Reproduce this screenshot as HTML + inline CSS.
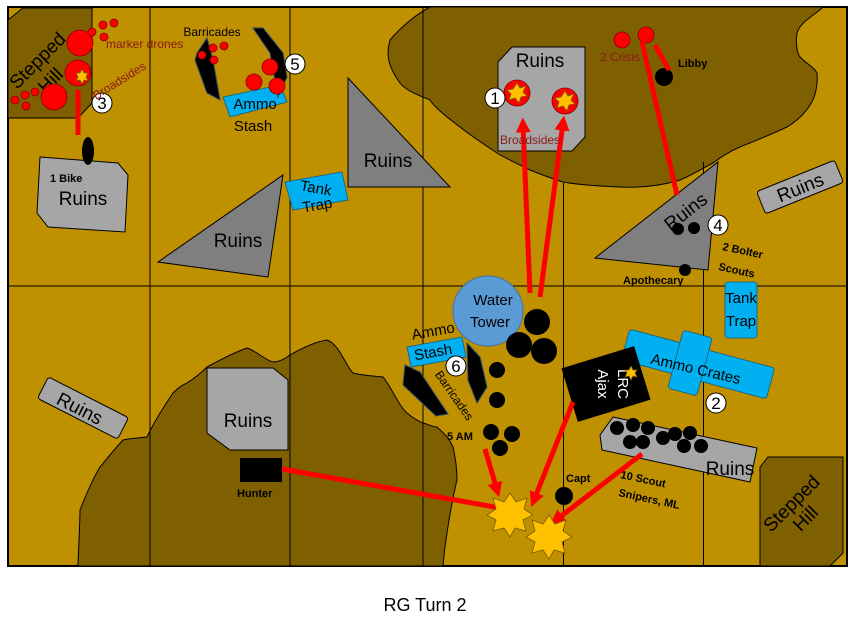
<!DOCTYPE html>
<html><head><meta charset="utf-8"><style>
html,body{margin:0;padding:0;background:#fff;}
svg{display:block;font-family:"Liberation Sans",Calibri,sans-serif;}
</style></head><body>
<svg width="851" height="617" viewBox="0 0 851 617" xmlns="http://www.w3.org/2000/svg">
<defs>
<marker id="ah" markerWidth="3" markerHeight="3" refX="1.5" refY="1.5" orient="auto" markerUnits="strokeWidth"><path d="M0,0 L3,1.5 L0,3 z" fill="#f00"/></marker>
</defs>
<rect x="8" y="7" width="839" height="559" fill="#BF9000" stroke="#000" stroke-width="2"/>
<path d="M430,7 L823,7 C815,15 800,22 797,33 C795,45 798,55 800,57 C808,65 815,68 817,73 C818,85 815,95 813,100 C805,115 795,122 787,127 C770,135 752,142 740,147 C728,152 720,158 713,163 C700,170 690,176 680,180 C660,186 640,188 620,187 C600,186 580,185 563,182 C550,178 540,174 530,170 C518,164 505,158 497,153 C485,145 470,135 460,127 C448,118 435,108 430,100 C418,95 405,90 400,83 C392,72 388,62 388,53 C388,45 390,42 390,40 C400,28 415,15 430,7 Z" fill="#7F6000" stroke="#000" stroke-width="1"/>
<path d="M78,566 L78,563 C79,540 80,520 80,510 C88,490 95,475 100,467 C110,455 118,445 123,440 C130,438 140,438 147,437 C155,420 165,405 173,393 C178,388 182,385 187,383 C195,378 202,372 207,367 C220,360 235,352 247,348 C258,352 265,360 273,362 C280,362 286,358 290,355 C302,348 315,342 327,340 C340,345 345,365 353,373 C365,376 375,376 383,377 C392,388 398,405 407,413 C413,418 418,421 423,423 C430,425 433,427 437,427 C446,435 450,440 453,447 C456,460 457,470 457,480 C452,500 449,520 447,533 C445,545 444,555 443,566 Z" fill="#7F6000" stroke="#000" stroke-width="1"/>
<g stroke="#000" stroke-width="1">
<line x1="150" y1="7" x2="150" y2="566"/>
<line x1="290" y1="7" x2="290" y2="566"/>
<line x1="423" y1="7" x2="423" y2="566"/>
<line x1="563.5" y1="183" x2="563.5" y2="566"/>
<line x1="703.5" y1="162" x2="703.5" y2="566"/>
<line x1="8" y1="286" x2="847" y2="286"/>
</g>
<path d="M23,8 L92,8 L92,103 L78,118 L8,118 L8,20 Z" fill="#7F6000" stroke="#000"/>
<text x="42" y="65" font-size="19" transform="rotate(-45 42 65)" text-anchor="middle" fill="#000">Stepped</text>
<text x="55" y="85" font-size="19" transform="rotate(-45 55 85)" text-anchor="middle" fill="#000">Hill</text>
<path d="M768,457 L843,457 L843,553 L830,566 L760,566 L760,467 Z" fill="#7F6000" stroke="#000"/>
<text x="796" y="508" font-size="19" transform="rotate(-45 796 508)" text-anchor="middle">Stepped</text>
<text x="810" y="523" font-size="19" transform="rotate(-45 810 523)" text-anchor="middle">Hill</text>
<g fill="#A6A6A6" stroke="#000" stroke-width="1">
<path d="M40,157 L118,163 L128,175 L125,232 L48,227 L37,213 Z"/>
<path d="M158,262 L283,175 L268,277 Z" fill="#7F7F7F"/>
<path d="M348,78 L450,187 L348,187 Z" fill="#7F7F7F"/>
<path d="M512,47 L585,47 L585,137 L572,151 L498,151 L498,62 Z"/>
<path d="M595,258 L718,162 L708,270 Z" fill="#7F7F7F"/>
<rect x="-42" y="-12" width="84" height="24" rx="3" transform="translate(800,187) rotate(-22)"/>
<rect x="-45" y="-12" width="90" height="24" rx="3" transform="translate(83,408) rotate(27)"/>
<path d="M207,368 L273,368 L288,380 L288,450 L230,450 L207,433 Z"/>
<path d="M613,417 L757,448 L750,482 L602,450 L600,435 Z"/>
</g>
<g font-size="19" fill="#000">
<text x="83" y="205" text-anchor="middle">Ruins</text>
<text x="238" y="247" text-anchor="middle">Ruins</text>
<text x="388" y="167" text-anchor="middle">Ruins</text>
<text x="540" y="67" text-anchor="middle">Ruins</text>
<text x="686" y="218" text-anchor="middle" transform="rotate(-38 686 212)">Ruins</text>
<text x="800" y="194" text-anchor="middle" transform="rotate(-22 800 187)">Ruins</text>
<text x="80" y="415" text-anchor="middle" transform="rotate(27 80 408)">Ruins</text>
<text x="248" y="427" text-anchor="middle">Ruins</text>
<text x="730" y="475" text-anchor="middle">Ruins</text>
</g>
<g fill="#00B0F0" stroke="#1a5a7a" stroke-width="0.8">
<path d="M223,97 L280,85 L287,102 L230,117 Z"/>
<path d="M285,182 L342,172 L348,200 L293,210 Z"/>
<rect x="725" y="282" width="32" height="56" rx="3"/>
<rect x="-75" y="-16" width="150" height="32" rx="3" transform="translate(698,364) rotate(15)"/>
<rect x="-15" y="-30" width="30" height="60" rx="3" transform="translate(690,363) rotate(15)"/>
<path d="M407,347 L462,337 L466,357 L411,367 Z"/>
</g>
<g fill="#000" stroke="#2c4a6a" stroke-width="1">
<path d="M197,53 L207,38 L213,60 L220,100 L207,93 L195,60 Z"/>
<path d="M253,28 L263,28 L283,53 L287,77 L278,97 L270,53 Z"/>
<path d="M405,365 L420,372 L448,414 L436,416 L403,385 Z"/>
<path d="M467,343 L480,357 L487,387 L477,403 L468,380 Z"/>
</g>
<circle cx="488" cy="311" r="35" fill="#5B9BD5" stroke="#41719c"/>
<text x="493" y="305" font-size="15" text-anchor="middle">Water</text>
<text x="490" y="327" font-size="15" text-anchor="middle">Tower</text>
<text x="255" y="109" font-size="15" text-anchor="middle">Ammo</text>
<text x="253" y="131" font-size="15" text-anchor="middle">Stash</text>
<text x="315" y="193" font-size="15" text-anchor="middle" transform="rotate(10 315 193)">Tank</text>
<text x="318" y="210" font-size="15" text-anchor="middle" transform="rotate(-10 318 210)">Trap</text>
<text x="741" y="303" font-size="15" text-anchor="middle">Tank</text>
<text x="741" y="326" font-size="15" text-anchor="middle">Trap</text>
<text x="696" y="374" font-size="15" text-anchor="middle" transform="rotate(13 696 368)">Ammo Crates</text>
<text x="434" y="336" font-size="15" text-anchor="middle" transform="rotate(-10 434 336)">Ammo</text>
<text x="434" y="357" font-size="15" text-anchor="middle" transform="rotate(-10 434 357)">Stash</text>
<text x="455" y="400" font-size="12" text-anchor="middle" transform="rotate(55 455 395)">Barricades</text>
<text x="212" y="36" font-size="12" text-anchor="middle">Barricades</text>
<rect x="-38" y="-28" width="76" height="56" fill="#000" transform="translate(606,384) rotate(-17)"/>
<text x="618" y="384" font-size="15" fill="#fff" text-anchor="middle" transform="rotate(90 618 384)">LRC</text>
<text x="598" y="384" font-size="15" fill="#fff" text-anchor="middle" transform="rotate(90 598 384)">Ajax</text>
<g fill="#000">
<circle cx="537" cy="322" r="13"/><circle cx="519" cy="345" r="13"/><circle cx="544" cy="351" r="13"/>
<circle cx="497" cy="370" r="8"/><circle cx="497" cy="400" r="8"/><circle cx="491" cy="432" r="8"/><circle cx="512" cy="434" r="8"/><circle cx="500" cy="448" r="8"/>
<circle cx="617" cy="428" r="7"/><circle cx="633" cy="425" r="7"/><circle cx="648" cy="428" r="7"/><circle cx="630" cy="442" r="7"/><circle cx="643" cy="442" r="7"/><circle cx="663" cy="438" r="7"/><circle cx="675" cy="434" r="7"/><circle cx="690" cy="433" r="7"/><circle cx="684" cy="446" r="7"/><circle cx="701" cy="446" r="7"/>
<circle cx="564" cy="496" r="9"/>
<circle cx="685" cy="270" r="6"/><circle cx="678" cy="229" r="6"/><circle cx="694" cy="228" r="6"/>
<circle cx="664" cy="77" r="9"/>
<ellipse cx="88" cy="151" rx="6" ry="14"/>
<rect x="240" y="458" width="42" height="24"/>
</g>
<g fill="#f00" stroke="#800" stroke-width="0.8">
<circle cx="80" cy="43" r="13"/><circle cx="78" cy="73" r="13"/><circle cx="54" cy="97" r="13"/>
<circle cx="15" cy="100" r="4"/><circle cx="25" cy="95" r="4"/><circle cx="26" cy="106" r="4"/><circle cx="35" cy="92" r="4"/>
<circle cx="92" cy="32" r="4"/><circle cx="103" cy="25" r="4"/><circle cx="114" cy="23" r="4"/><circle cx="104" cy="37" r="4"/>
<circle cx="202" cy="55" r="4"/><circle cx="213" cy="48" r="4"/><circle cx="224" cy="46" r="4"/><circle cx="214" cy="60" r="4"/>
<circle cx="270" cy="67" r="8"/><circle cx="254" cy="82" r="8"/><circle cx="277" cy="86" r="8"/>
<circle cx="622" cy="40" r="8"/><circle cx="646" cy="35" r="8"/>
<circle cx="517" cy="93" r="13"/><circle cx="565" cy="101" r="13"/>
</g>
<g stroke="#f00" stroke-width="5" fill="none">
<line x1="78" y1="90" x2="78" y2="135"/>
<line x1="530" y1="293" x2="523" y2="125" marker-end="url(#ah)"/>
<line x1="540" y1="297" x2="563" y2="123" marker-end="url(#ah)"/>
<line x1="677" y1="195" x2="642" y2="42"/>
<line x1="669" y1="70" x2="655" y2="45"/>
<line x1="282" y1="469" x2="500" y2="508"/>
<line x1="485" y1="449" x2="497" y2="490" marker-end="url(#ah)"/>
<line x1="573" y1="402" x2="534" y2="500" marker-end="url(#ah)"/>
<line x1="642" y1="454" x2="556" y2="520" marker-end="url(#ah)"/>
</g>
<g fill="#FFC000" stroke="#7a5a00" stroke-width="0.8">
<polygon points="517,83 520,88 526,86 523,92 527,96 521,97 519,103 515,98 509,100 511,94 507,90 513,89"/>
<polygon points="565,91 568,96 574,94 571,100 575,104 569,105 567,111 563,106 557,108 559,102 555,98 561,97"/>
<polygon points="510,493 516,502 527,498 524,509 533,515 523,520 526,531 515,528 510,537 504,528 493,531 496,520 487,515 496,509 493,498 504,502"/>
<polygon points="549,515 555,524 566,520 563,531 572,537 562,542 565,553 554,550 549,559 543,550 532,553 535,542 526,537 535,531 532,520 543,524"/>
<polygon points="82,69 84,73 88,73 86,77 88,81 84,80 82,84 80,80 76,81 78,77 76,73 80,73"/>
<polygon points="631,366 633,370 637,370 635,373 637,377 633,376 631,380 629,376 625,377 627,373 625,370 629,370"/>
</g>
<g fill="#fff" stroke="#000" stroke-width="1">
<circle cx="495" cy="98" r="10"/><circle cx="716" cy="403" r="10"/><circle cx="102" cy="103" r="10"/>
<circle cx="718" cy="225" r="10"/><circle cx="295" cy="64" r="10"/><circle cx="456" cy="366" r="10"/>
</g>
<g font-size="17" text-anchor="middle" fill="#000">
<text x="495" y="104">1</text><text x="716" y="409">2</text><text x="102" y="109">3</text>
<text x="718" y="231">4</text><text x="295" y="70">5</text><text x="456" y="372">6</text>
</g>
<g fill="#8B1A1A" font-size="12">
<text x="106" y="48">marker drones</text>
<text x="96" y="100" transform="rotate(-32 96 100)">Broadsides</text>
<text x="500" y="144">Broadsides</text>
<text x="600" y="61">2 Crisis</text>
</g>
<g font-weight="bold" font-size="11" fill="#000">
<text x="50" y="182">1 Bike</text>
<text x="678" y="67">Libby</text>
<text x="623" y="284">Apothecary</text>
<text x="722" y="250" transform="rotate(12 722 250)">2 Bolter</text>
<text x="718" y="270" transform="rotate(12 718 270)">Scouts</text>
<text x="447" y="440">5 AM</text>
<text x="566" y="482">Capt</text>
<text x="620" y="478" transform="rotate(12 620 478)">10 Scout</text>
<text x="618" y="496" transform="rotate(12 618 496)">Snipers, ML</text>
<text x="237" y="497">Hunter</text>
</g>
<text x="425" y="611" font-size="18" text-anchor="middle" fill="#000">RG Turn 2</text>
</svg>
</body></html>
